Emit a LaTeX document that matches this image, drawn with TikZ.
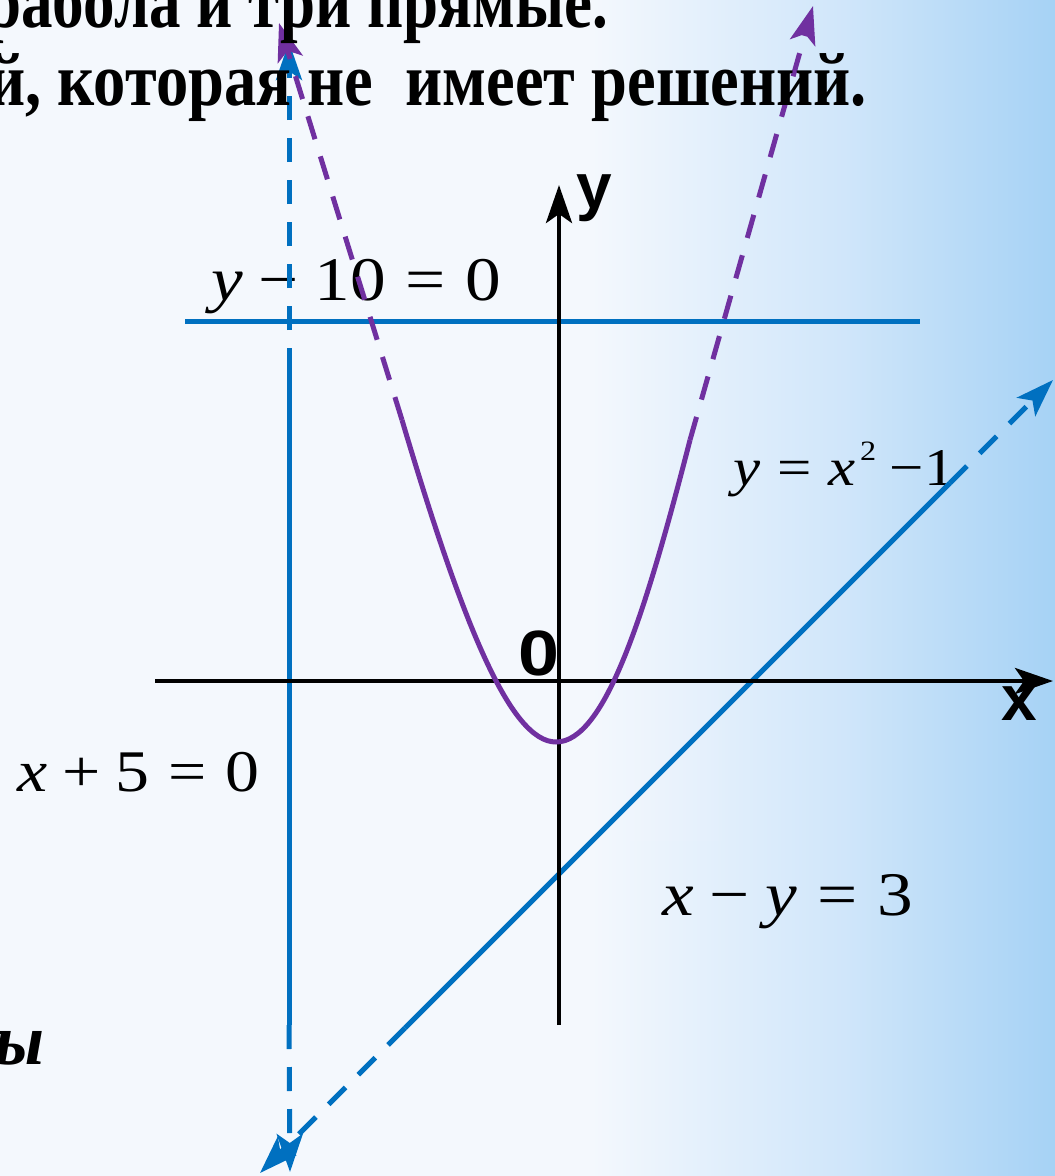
\documentclass[tikz,border=0pt]{standalone}
\usepackage{fontspec}
\setmainfont{Liberation Serif}
\newfontfamily\axfont{Liberation Sans}
\usetikzlibrary{arrows.meta,fadings}
\definecolor{lineblue}{HTML}{0070C0}
\definecolor{linepurple}{HTML}{7030A0}
\definecolor{bgw}{HTML}{F4F8FD}
\definecolor{bgm}{HTML}{D0E6FA}
\definecolor{bgb}{HTML}{A6D2F5}
\definecolor{bandc}{HTML}{DCEAF8}
\pgfdeclarehorizontalshading{bgshade}{100bp}{color(0bp)=(bgw); color(25bp)=(bgw); color(53bp)=(bgw); color(65bp)=(bgm); color(75bp)=(bgb); color(100bp)=(bgb)}
\newcommand\msp{\hspace{0.222em}}
\newcommand\tsp{\hspace{0.278em}}
\newcommand\eqbox[1]{\scalebox{1.15}[1]{#1}}
\begin{document}
\begin{tikzpicture}[x=1pt,y=-1pt,
  bline/.style={draw=lineblue, line width=5pt},
  pline/.style={draw=linepurple, line width=5pt},
  axisline/.style={draw=black, line width=4.5pt},
  dsh/.style={dash pattern=on 24pt off 18pt},
  tipb/.style={-{Stealth[length=38pt,width=26pt,inset=9pt]}},
  eqlabel/.style={inner sep=0pt, anchor=base west, font=\fontsize{62}{64}\selectfont},
  titletext/.style={inner sep=0pt, anchor=base east, font=\fontsize{63}{66}\selectfont\bfseries},
  axlabel/.style={inner sep=0pt, anchor=base west, font=\axfont\bfseries\fontsize{64}{66}\selectfont}]
\useasboundingbox (0,0) rectangle (1055,1176);
\clip (0,0) rectangle (1055,1176);
\shade[shading=bgshade] (0,0) rectangle (1055,1176);
\shade[top color=bgw, middle color=bandc, bottom color=bgw, path fading=east] (0,690) rectangle (760,840);

% equation labels
\node[eqlabel] (lab10) at (211,300) {\eqbox{{\itshape y}\msp−\msp10\tsp=\tsp0}};
\node[eqlabel, font=\fontsize{59}{61}\selectfont] (lab5) at (17,791) {\eqbox{{\itshape x}\msp+\msp5\tsp=\tsp0}};
\node[eqlabel] (labxy) at (662,915) {\eqbox{{\itshape x}\msp−\msp{\itshape y}\tsp=\tsp3}};
\node[eqlabel, font=\fontsize{53}{55}\selectfont] (labpar) at (733,485)
  {\eqbox{{\itshape y}\tsp=\tsp{\itshape x}\hspace{4pt}\raisebox{25pt}{\fontsize{28}{28}\selectfont 2}\msp−1}};

% coordinates
\coordinate (vtop) at (289,42);
\coordinate (vmid) at (289,372);
\coordinate (vlow) at (289,1025);
\coordinate (vbot) at (290,1172);
\coordinate (hl) at (185,321);
\coordinate (hr) at (920,321);
\coordinate (dlo) at (405,1028);
\coordinate (dhi) at (950,483);
\coordinate (dtipr) at (1053,380);
\coordinate (dtipl) at (260,1173);
\coordinate (yb) at (559,1025);
\coordinate (yt) at (559,185);
\coordinate (xl) at (155,681);
\coordinate (xr) at (1053,681);
\coordinate (pl) at (402,420);
\coordinate (pv) at (556,742);
\coordinate (pr) at (690,440);
\coordinate (ptl) at (279,23);
\coordinate (ptr) at (813,6);

% blue lines
\draw[bline] (hl) -- (hr);
\draw[bline] (vmid) -- (vlow);
\draw[bline, dsh, tipb] (vmid) -- (vtop);
\draw[bline, dsh, tipb] (vlow) -- (vbot);
\draw[bline] (dlo) -- (dhi);
\draw[bline, dsh, tipb] (dhi) -- (dtipr);
\draw[bline, dsh, tipb] (dlo) -- (dtipl);

% axes
\draw[axisline, tipb] (yb) -- (yt);
\draw[axisline, tipb] (xl) -- (xr);

% parabola
\draw[pline] (pl) .. controls (462,622) and (510,742) .. (pv)
  .. controls (605,742) and (645,615) .. (pr);
\draw[pline, dsh, tipb] (pl) -- (ptl);
\draw[pline, dsh, tipb] (pr) -- (ptr);

% axis labels
\node[axlabel] (ylab) at (576,208) {y};
\node[axlabel] (xlab) at (1001,720) {x};
\node[axlabel] (olab) at (518,675) {\scalebox{1.15}[1]{0}};

% title text
\node[titletext] (t1) at (609,27) {\scalebox{1}[1.2]{рабола и три прямые.}};
\node[titletext, font=\fontsize{64.5}{66}\selectfont\bfseries] (t2) at (867,105) {\scalebox{1}[1.17]{й, которая не\ \ имеет решений.}};
\node[inner sep=0pt, anchor=base east, font=\fontsize{72}{74}\selectfont\bfseries\itshape] (t3) at (45,1064) {ы};
\end{tikzpicture}
\end{document}
